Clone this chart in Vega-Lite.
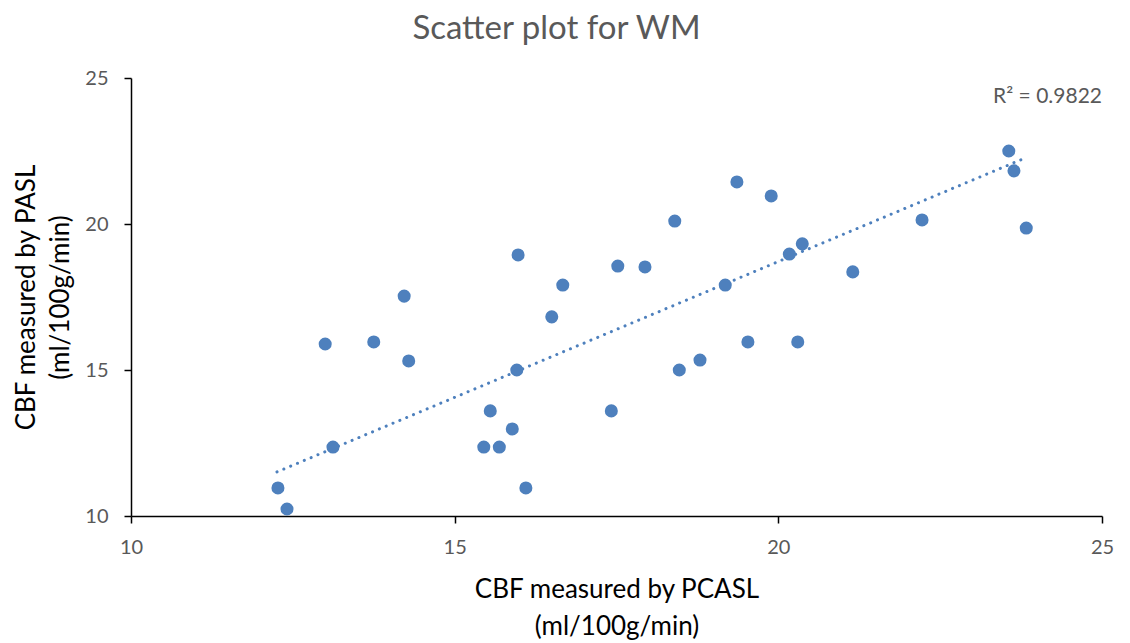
{
  "$schema": "https://vega.github.io/schema/vega-lite/v6.json",
  "width": 971,
  "height": 438,
  "autosize": {"type": "none"},
  "padding": {"left": 131, "top": 78, "right": 28, "bottom": 127},
  "background": "white",
  "title": {
    "text": "Scatter plot for WM",
    "anchor": "middle",
    "frame": "group",
    "dx": -60,
    "offset": 22,
    "font": "Lato",
    "fontSize": 33,
    "fontWeight": "normal",
    "color": "#595959"
  },
  "datasets": {
    "points": [
      {"pcasl": 12.27, "pasl": 10.96},
      {"pcasl": 12.41, "pasl": 10.24},
      {"pcasl": 13.00, "pasl": 15.89},
      {"pcasl": 13.12, "pasl": 12.36},
      {"pcasl": 13.75, "pasl": 15.96},
      {"pcasl": 14.22, "pasl": 17.53},
      {"pcasl": 14.29, "pasl": 15.31},
      {"pcasl": 15.45, "pasl": 12.36},
      {"pcasl": 15.55, "pasl": 13.60},
      {"pcasl": 15.69, "pasl": 12.36},
      {"pcasl": 15.89, "pasl": 12.98},
      {"pcasl": 15.96, "pasl": 15.00},
      {"pcasl": 15.98, "pasl": 18.94},
      {"pcasl": 16.10, "pasl": 10.96},
      {"pcasl": 16.50, "pasl": 16.82},
      {"pcasl": 16.67, "pasl": 17.91},
      {"pcasl": 17.42, "pasl": 13.60},
      {"pcasl": 17.52, "pasl": 18.56},
      {"pcasl": 17.94, "pasl": 18.53},
      {"pcasl": 18.40, "pasl": 20.10},
      {"pcasl": 18.47, "pasl": 15.00},
      {"pcasl": 18.79, "pasl": 15.34},
      {"pcasl": 19.18, "pasl": 17.91},
      {"pcasl": 19.36, "pasl": 21.44},
      {"pcasl": 19.53, "pasl": 15.96},
      {"pcasl": 19.89, "pasl": 20.96},
      {"pcasl": 20.30, "pasl": 15.96},
      {"pcasl": 20.17, "pasl": 18.97},
      {"pcasl": 20.37, "pasl": 19.32},
      {"pcasl": 21.15, "pasl": 18.36},
      {"pcasl": 22.22, "pasl": 20.14},
      {"pcasl": 23.56, "pasl": 22.50},
      {"pcasl": 23.64, "pasl": 21.82},
      {"pcasl": 23.83, "pasl": 19.86}
    ],
    "trend": [
      {"pcasl": 12.255, "pasl": 11.51},
      {"pcasl": 23.78, "pasl": 22.23}
    ],
    "label": [
      {"pcasl": 25, "pasl": 24.35, "text": "R² = 0.9822"}
    ]
  },
  "config": {
    "view": {"stroke": null},
    "axis": {
      "grid": false,
      "domainColor": "#000000",
      "domainWidth": 1.5,
      "tickColor": "#000000",
      "tickWidth": 1.5,
      "tickSize": 7,
      "format": "d",
      "labelFlush": false,
      "labelOverlap": false,
      "labelColor": "#595959",
      "labelFont": "Lato",
      "labelFontSize": 20,
      "titleFont": "Lato",
      "titleFontSize": 26,
      "titleFontWeight": "normal",
      "titleColor": "#000000"
    }
  },
  "layer": [
    {
      "data": {"name": "trend"},
      "mark": {"type": "line", "color": "#4e80bd", "strokeWidth": 3, "strokeCap": "round", "strokeDash": [0.1, 7.3]},
      "encoding": {
        "x": {"field": "pcasl", "type": "quantitative", "scale": {"domain": [10, 25], "nice": false, "zero": false},
          "axis": {"values": [10, 15, 20, 25], "format": "d", "labelFlush": false, "labelPadding": 14, "title": ["CBF measured by PCASL", "(ml/100g/min)"], "titlePadding": 19, "titleLineHeight": 37}},
        "y": {"field": "pasl", "type": "quantitative", "scale": {"domain": [10, 25], "nice": false, "zero": false},
          "axis": {"values": [10, 15, 20, 25], "format": "d", "labelFlush": false, "labelPadding": 16, "title": ["CBF measured by PASL", "(ml/100g/min)"], "titlePadding": 11, "titleLineHeight": 34}}
      }
    },
    {
      "data": {"name": "points"},
      "mark": {"type": "circle", "color": "#4e80bd", "opacity": 1, "size": 170},
      "encoding": {
        "x": {"field": "pcasl", "type": "quantitative"},
        "y": {"field": "pasl", "type": "quantitative"}
      }
    },
    {
      "data": {"name": "label"},
      "mark": {"type": "text", "align": "right", "baseline": "middle", "font": "Lato", "fontSize": 21, "color": "#595959"},
      "encoding": {
        "x": {"field": "pcasl", "type": "quantitative"},
        "y": {"field": "pasl", "type": "quantitative"},
        "text": {"field": "text"}
      }
    }
  ]
}
